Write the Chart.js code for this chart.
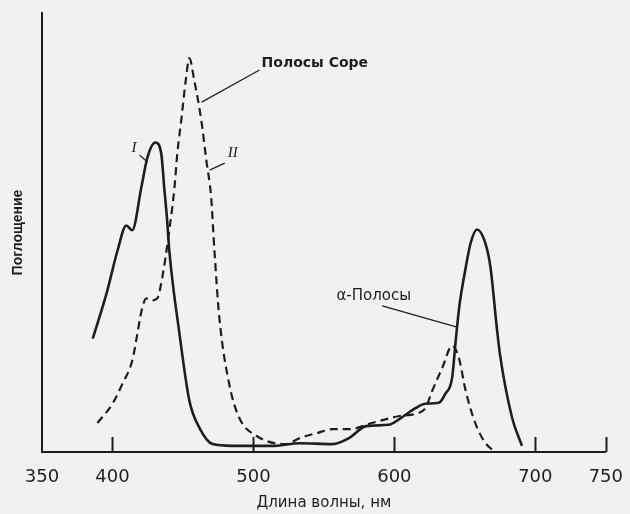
<!DOCTYPE html>
<html>
<head>
<meta charset="utf-8">
<script src="https://cdn.jsdelivr.net/npm/chart.js@4.4.0/dist/chart.umd.min.js"></script>
<style>
  html, body { margin: 0; padding: 0; background: #f1f1ef; }
  #wrap { width: 630px; height: 514px; }
</style>
</head>
<body>
<div id="wrap"><canvas id="chart-spectrum" width="630" height="514"></canvas></div>
<script>
// Спектры поглощения: I — сплошная, II — штриховая
var wlI = [386, 395.7, 403.6, 409.8, 414, 420.5, 424.7, 430.4, 434.6, 436.7, 438.8, 440.3, 447.5, 454.6, 461.7, 471, 485, 500, 515, 532.6, 556, 568, 580, 596, 603.5, 615, 622, 631.5, 636, 641, 643.4, 646, 650.6, 654, 658.6, 664.6, 668.2, 672.6, 675, 683.5, 690.5];
var absI = [25.8, 36, 45.9, 51.6, 50.5, 60.3, 67, 70.5, 68, 60.3, 52.7, 45.9, 27, 11.6, 5.5, 1.8, 1.4, 1.4, 1.4, 2, 1.8, 3.2, 5.9, 6.2, 7.5, 10, 11, 11.2, 13.2, 17, 25, 33, 42, 47.5, 50.7, 47.5, 42, 28.5, 22, 7.8, 1.4];

var wlII = [389.3, 400, 407, 414, 417.7, 420.5, 424, 427.5, 431.8, 435.3, 440.3, 444, 446, 448.8, 452, 454.5, 458, 463, 466.6, 470, 472.3, 475.8, 482.8, 489.9, 502, 523, 533, 545, 556, 568, 584, 603.5, 615, 622, 626.8, 634, 641, 645.7, 650.6, 657.6, 664.7, 671.7];
var absII = [6.6, 11, 15.5, 20.8, 27, 32, 35, 34.5, 35, 39.7, 50.5, 60.3, 68, 75.6, 84.7, 89.7, 84.7, 75.6, 66.4, 58, 46, 30.6, 15.5, 7.8, 3.7, 1.8, 3.2, 4.3, 5.2, 5.2, 6.6, 8.2, 8.7, 10, 13.9, 19.2, 24.2, 21.5, 13.9, 6.4, 2, 0];

var tickVals = [350, 400, 500, 600, 700, 750];
var markTicks = [400, 500, 600, 700, 750];

// подписи с выносками (в единицах данных)
var notes = [
  { text: 'Полосы Соре', font: 'bold 14px "DejaVu Sans"', x: 505.8, y: 88.6, from: [504.3, 87], to: [463.3, 79.7] },
  { text: 'I', font: 'italic 15px "Liberation Serif"', x: 413.5, y: 69.2, from: [419.3, 67.6], to: [425, 66] },
  { text: 'II', font: 'italic 15px "Liberation Serif"', x: 481.7, y: 68, from: [479.6, 65.8], to: [468.9, 64.2] },
  { text: 'α-Полосы', font: '15px "DejaVu Sans"', x: 558.9, y: 35.6, from: [591.4, 33.3], to: [643.8, 28.5] }
];

var ink = '#1e1e1e';

function toPts(xs, ys) {
  return xs.map(function(x, i) { return { x: x, y: ys[i] }; });
}

var decor = {
  id: 'decor',
  afterDatasetsDraw: function(ch) {
    var ctx = ch.ctx, sx = ch.scales.x, sy = ch.scales.y;
    ctx.save();
    ctx.strokeStyle = ink;
    ctx.lineWidth = 2;
    markTicks.forEach(function(v) {
      var px = Math.round(sx.getPixelForValue(v)) + 0.5;
      ctx.beginPath();
      ctx.moveTo(px, sy.bottom);
      ctx.lineTo(px, sy.bottom - 15);
      ctx.stroke();
    });
    ctx.lineWidth = 1.2;
    ctx.fillStyle = ink;
    ctx.textBaseline = 'middle';
    ctx.textAlign = 'left';
    notes.forEach(function(n) {
      ctx.beginPath();
      ctx.moveTo(sx.getPixelForValue(n.from[0]), sy.getPixelForValue(n.from[1]));
      ctx.lineTo(sx.getPixelForValue(n.to[0]), sy.getPixelForValue(n.to[1]));
      ctx.stroke();
      ctx.font = n.font;
      ctx.fillText(n.text, sx.getPixelForValue(n.x), sy.getPixelForValue(n.y));
    });
    ctx.restore();
  }
};

new Chart(document.getElementById('chart-spectrum'), {
  type: 'line',
  data: {
    datasets: [{
      label: 'I',
      data: toPts(wlI, absI),
      borderColor: ink,
      borderWidth: 2.6,
      pointRadius: 0,
      cubicInterpolationMode: 'monotone'
    }, {
      label: 'II',
      data: toPts(wlII, absII),
      borderColor: ink,
      borderWidth: 2.2,
      borderDash: [8, 5],
      pointRadius: 0,
      cubicInterpolationMode: 'monotone'
    }]
  },
  options: {
    responsive: false,
    animation: false,
    devicePixelRatio: 1,
    layout: { padding: { top: 13, right: 23, left: 0, bottom: 0 } },
    plugins: { legend: { display: false }, tooltip: { enabled: false } },
    scales: {
      x: {
        type: 'linear',
        min: 350, max: 750,
        afterBuildTicks: function(s) { s.ticks = tickVals.map(function(v) { return { value: v }; }); },
        afterFit: function(s) { s.height = 62; },
        grid: { display: false },
        border: { display: true, color: ink, width: 2 },
        ticks: { color: ink, padding: 7, font: { family: '"DejaVu Sans"', size: 18 }, maxRotation: 0, autoSkip: false },
        title: { display: true, text: 'Длина волны, нм', color: ink, font: { family: '"DejaVu Sans"', size: 15 }, padding: { top: 0, bottom: 2 } }
      },
      y: {
        min: 0, max: 100,
        afterFit: function(s) { s.width = 42; },
        grid: { display: false },
        border: { display: true, color: ink, width: 2 },
        ticks: { display: false },
        title: { display: true, text: 'Поглощение', color: ink, font: { family: '"Liberation Sans"', size: 14, weight: 'bold' }, padding: { top: 10, bottom: 0 } }
      }
    }
  },
  plugins: [decor]
});
</script>
</body>
</html>
